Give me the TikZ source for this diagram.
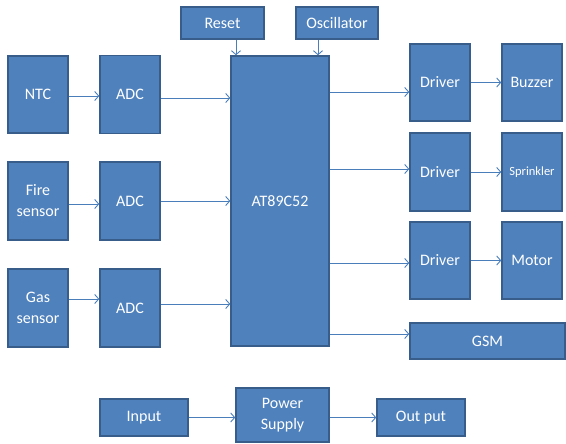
\documentclass[tikz,border=0pt]{standalone}
\usepackage{fontspec}
\setmainfont{Carlito}
\usetikzlibrary{arrows.meta}
\definecolor{boxblue}{HTML}{4F81BD}
\definecolor{boxedge}{HTML}{385D8A}
\definecolor{linkblue}{HTML}{4A7EBB}
\begin{document}
\begin{tikzpicture}[x=1pt, y=-1pt,
    block/.style={draw=boxedge, line width=1.4pt, fill=boxblue, text=white, align=center,
        inner sep=0pt, font=\fontsize{16}{21}\selectfont},
    link/.style={draw=linkblue, line width=0.9pt, -{Straight Barb[length=4pt,width=9pt]}}]
    \useasboundingbox (0,0) rectangle (566,444);

    % Reset and clock
    \node[block, minimum width=83, minimum height=32] (reset) at (222.5,23) {Reset};
    \node[block, minimum width=82, minimum height=32] (osc) at (337,23) {Oscillator};

    % Controller
    \node[block, minimum width=98, minimum height=290] (mcu) at (280,201) {AT89C52};

    % Sensors
    \node[block, minimum width=60, minimum height=77] (ntc) at (38,94.5) {NTC};
    \node[block, minimum width=60, minimum height=78] (fire) at (38,201) {Fire\\sensor};
    \node[block, minimum width=60, minimum height=78] (gas) at (38,308) {Gas\\sensor};

    % Converters
    \foreach \name/\y in {adc1/94.5, adc2/201, adc3/308}
        \node[block, minimum width=60, minimum height=78] (\name) at (130,\y) {ADC};

    % Drivers and loads
    \node[block, minimum width=60, minimum height=77] (drv1) at (440,82.5) {Driver};
    \node[block, minimum width=60, minimum height=77] (buzzer) at (532,82.5) {Buzzer};
    \node[block, minimum width=60, minimum height=78] (drv2) at (440,172) {Driver};
    \node[block, minimum width=60, minimum height=78, font=\fontsize{12.5}{15}\selectfont] (sprinkler) at (532,172) {Sprinkler};
    \node[block, minimum width=60, minimum height=77] (drv3) at (440,260.5) {Driver};
    \node[block, minimum width=60, minimum height=77] (motor) at (532,260.5) {Motor};
    \node[block, minimum width=155, minimum height=36] (gsm) at (487.5,341) {GSM};

    % Power
    \node[block, minimum width=88, minimum height=37] (input) at (144,417.5) {Input};
    \node[block, minimum width=93, minimum height=54] (power) at (282.5,415) {Power\\Supply};
    \node[block, minimum width=88, minimum height=37] (output) at (421,417.5) {Out put};

    % Links
    \draw[link] (reset.south -| 236,0) -- (mcu.north -| 236,0);
    \draw[link] (osc.south -| 318,0) -- (mcu.north -| 318,0);

    \draw[link] (ntc.east |- 0,96) -- (adc1.west |- 0,96);
    \draw[link] (fire.east |- 0,204) -- (adc2.west |- 0,204);
    \draw[link] (gas.east |- 0,299) -- (adc3.west |- 0,299);

    \draw[link] (adc1.east |- 0,98) -- (mcu.west |- 0,98);
    \draw[link] (adc2.east |- 0,201) -- (mcu.west |- 0,201);
    \draw[link] (adc3.east |- 0,304) -- (mcu.west |- 0,304);

    \draw[link] (mcu.east |- 0,92) -- (drv1.west |- 0,92);
    \draw[link] (mcu.east |- 0,169) -- (drv2.west |- 0,169);
    \draw[link] (mcu.east |- 0,263) -- (drv3.west |- 0,263);
    \draw[link] (mcu.east |- 0,334) -- (gsm.west |- 0,334);

    \draw[link] (drv1) -- (buzzer);
    \draw[link] (drv2) -- (sprinkler);
    \draw[link] (drv3) -- (motor);

    \draw[link] (input) -- (power.west |- input);
    \draw[link] (power.east |- output) -- (output);

\end{tikzpicture}
\end{document}
